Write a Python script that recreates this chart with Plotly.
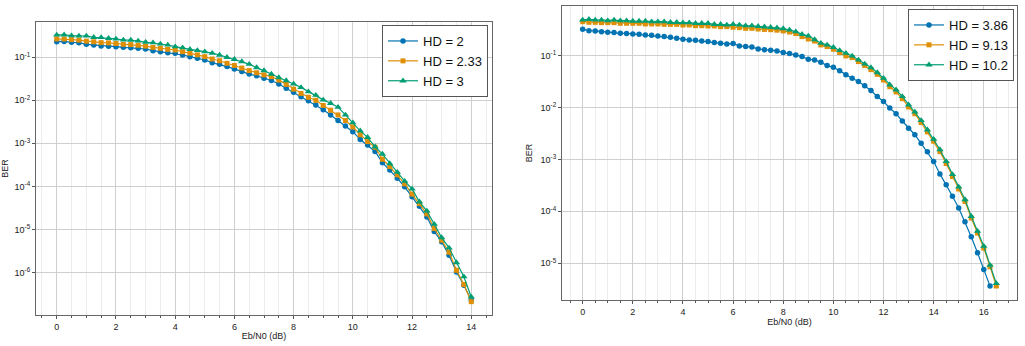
import plotly.graph_objects as go

# ---------------- data (BER given as log10 exponents) ----------------
ebn0_left = [0, 0.25, 0.5, 0.75, 1, 1.25, 1.5, 1.75, 2, 2.25,
             2.5, 2.75, 3, 3.25, 3.5, 3.75, 4, 4.25, 4.5, 4.75,
             5, 5.25, 5.5, 5.75, 6, 6.25, 6.5, 6.75, 7, 7.25,
             7.5, 7.75, 8, 8.25, 8.5, 8.75, 9, 9.25, 9.5, 9.75,
             10, 10.25, 10.5, 10.75, 11, 11.25, 11.5, 11.75, 12, 12.25,
             12.5, 12.75, 13, 13.25, 13.5, 13.75, 14]

left_hd_2_log = [-0.637, -0.632, -0.653, -0.660, -0.699, -0.715, -0.738, -0.745, -0.753, -0.768,
                 -0.777, -0.792, -0.808, -0.846, -0.870, -0.893, -0.908, -0.947, -0.985, -1.024,
                 -1.063, -1.125, -1.163, -1.217, -1.271, -1.330, -1.390, -1.430, -1.490, -1.540,
                 -1.620, -1.720, -1.810, -1.920, -2.010, -2.110, -2.220, -2.340, -2.470, -2.600,
                 -2.730, -2.910, -3.040, -3.190, -3.450, -3.620, -3.810, -4.010, -4.240, -4.460,
                 -4.710, -5.050, -5.290, -5.600, -5.990, -6.300, -6.640]

left_hd_233_log = [-0.574, -0.575, -0.590, -0.600, -0.625, -0.640, -0.660, -0.665, -0.680, -0.700,
                   -0.705, -0.720, -0.740, -0.770, -0.790, -0.815, -0.830, -0.870, -0.905, -0.945,
                   -0.985, -1.040, -1.080, -1.140, -1.190, -1.250, -1.310, -1.360, -1.410, -1.450,
                   -1.530, -1.630, -1.740, -1.840, -1.930, -2.000, -2.120, -2.230, -2.340, -2.470,
                   -2.620, -2.800, -2.960, -3.090, -3.370, -3.540, -3.730, -3.940, -4.180, -4.400,
                   -4.640, -4.980, -5.250, -5.530, -5.950, -6.280, -6.680]

left_hd_3_log = [-0.481, -0.478, -0.497, -0.505, -0.505, -0.536, -0.540, -0.559, -0.574, -0.598,
                 -0.600, -0.621, -0.650, -0.660, -0.691, -0.714, -0.753, -0.776, -0.815, -0.840,
                 -0.869, -0.905, -0.947, -1.000, -1.047, -1.100, -1.160, -1.240, -1.310, -1.390,
                 -1.470, -1.540, -1.620, -1.700, -1.800, -1.880, -1.990, -2.070, -2.160, -2.340,
                 -2.520, -2.710, -2.860, -3.080, -3.250, -3.470, -3.670, -3.880, -4.060, -4.360,
                 -4.570, -4.880, -5.190, -5.430, -5.770, -6.100, -6.570]

ebn0_right = [0, 0.25, 0.5, 0.75, 1, 1.25, 1.5, 1.75, 2, 2.25,
              2.5, 2.75, 3, 3.25, 3.5, 3.75, 4, 4.25, 4.5, 4.75,
              5, 5.25, 5.5, 5.75, 6, 6.25, 6.5, 6.75, 7, 7.25,
              7.5, 7.75, 8, 8.25, 8.5, 8.75, 9, 9.25, 9.5, 9.75,
              10, 10.25, 10.5, 10.75, 11, 11.25, 11.5, 11.75, 12, 12.25,
              12.5, 12.75, 13, 13.25, 13.5, 13.75, 14, 14.25, 14.5, 14.75,
              15, 15.25, 15.5, 15.75, 16, 16.25, 16.5]

right_hd_386_log = [-0.493, -0.519, -0.525, -0.538, -0.551, -0.557, -0.570, -0.572, -0.583, -0.589,
                    -0.602, -0.608, -0.621, -0.634, -0.647, -0.666, -0.685, -0.698, -0.704, -0.717,
                    -0.730, -0.749, -0.762, -0.775, -0.769, -0.813, -0.826, -0.836, -0.871, -0.885,
                    -0.897, -0.910, -0.942, -0.961, -0.987, -1.019, -1.070, -1.083, -1.128, -1.192,
                    -1.224, -1.294, -1.371, -1.435, -1.500, -1.583, -1.672, -1.788, -1.884, -2.012,
                    -2.120, -2.260, -2.400, -2.525, -2.690, -2.855, -3.040, -3.280, -3.487, -3.711,
                    -3.935, -4.204, -4.492, -4.800, -5.121, -5.442]

right_hd_913_log = [-0.346, -0.358, -0.358, -0.365, -0.365, -0.365, -0.377, -0.377, -0.377, -0.377,
                    -0.390, -0.390, -0.390, -0.397, -0.397, -0.397, -0.410, -0.410, -0.423, -0.423,
                    -0.429, -0.429, -0.442, -0.442, -0.454, -0.461, -0.474, -0.474, -0.487, -0.495,
                    -0.500, -0.510, -0.525, -0.545, -0.575, -0.634, -0.680, -0.720, -0.794, -0.826,
                    -0.877, -0.940, -1.006, -1.038, -1.115, -1.190, -1.270, -1.360, -1.470, -1.600,
                    -1.700, -1.830, -1.990, -2.120, -2.290, -2.470, -2.650, -2.850, -3.080, -3.330,
                    -3.570, -3.810, -4.130, -4.420, -4.710, -5.070, -5.440]

right_hd_102_log = [-0.313, -0.301, -0.313, -0.313, -0.326, -0.313, -0.326, -0.326, -0.333, -0.333,
                    -0.333, -0.346, -0.346, -0.346, -0.358, -0.358, -0.365, -0.365, -0.377, -0.377,
                    -0.377, -0.397, -0.397, -0.410, -0.397, -0.410, -0.423, -0.423, -0.435, -0.445,
                    -0.455, -0.465, -0.480, -0.506, -0.538, -0.590, -0.620, -0.690, -0.760, -0.794,
                    -0.839, -0.900, -0.954, -1.006, -1.083, -1.160, -1.230, -1.326, -1.435, -1.563,
                    -1.660, -1.788, -1.948, -2.085, -2.250, -2.430, -2.610, -2.810, -3.040, -3.290,
                    -3.531, -3.775, -4.096, -4.384, -4.672, -5.038, -5.390]

left_names = ["HD = 2", "HD = 2.33", "HD = 3"]
right_names = ["HD = 3.86", "HD = 9.13", "HD = 10.2"]
left_tick_exps = [-1, -2, -3, -4, -5, -6]
right_tick_exps = [-1, -2, -3, -4, -5]

# ---------------- styling ----------------
W, H = 1025, 346
FONT = "Liberation Sans, Arial, Helvetica, sans-serif"
colors = ["#0173b2", "#de8f05", "#029e73"]
symbols = ["circle", "square", "triangle-up"]
msizes = [5.5, 5, 6.5]


def to_ber(exps):
    return [10 ** e for e in exps]


fig = go.Figure()

left_series = [left_hd_2_log, left_hd_233_log, left_hd_3_log]
for i, s in enumerate(left_series):
    fig.add_trace(go.Scatter(
        x=ebn0_left[:len(s)], y=to_ber(s), name=left_names[i], mode="lines+markers",
        line=dict(color=colors[i], width=1.2),
        marker=dict(symbol=symbols[i], size=msizes[i], color=colors[i]),
        xaxis="x", yaxis="y", legend="legend"))

right_series = [right_hd_386_log, right_hd_913_log, right_hd_102_log]
for i, s in enumerate(right_series):
    fig.add_trace(go.Scatter(
        x=ebn0_right[:len(s)], y=to_ber(s), name=right_names[i], mode="lines+markers",
        line=dict(color=colors[i], width=1.2),
        marker=dict(symbol=symbols[i], size=msizes[i], color=colors[i]),
        xaxis="x2", yaxis="y2", legend="legend2"))


def xaxis_style(dom, rng, anchor):
    return dict(
        domain=dom, range=rng, anchor=anchor, tick0=0, dtick=2,
        showgrid=True, gridcolor="#cfcfcf", gridwidth=1, zeroline=False,
        showline=True, mirror=True, linecolor="#666666", linewidth=1,
        ticks="outside", ticklen=3, tickcolor="#555555", tickwidth=1,
        tickfont=dict(size=9, color="#222222", family=FONT),
        minor=dict(dtick=0.5, tick0=0, ticks="outside", ticklen=2, tickcolor="#555555",
                   showgrid=True, gridcolor="#ececec", gridwidth=1),
        title=dict(text="Eb/N0 (dB)", font=dict(size=9, color="#222222", family=FONT), standoff=1),
    )


def yaxis_style(dom, rng, anchor, exps):
    return dict(
        type="log", domain=dom, range=rng, anchor=anchor,
        tickvals=[10 ** e for e in exps],
        ticktext=["10<sup>%d</sup>" % e for e in exps],
        showgrid=True, gridcolor="#cfcfcf", gridwidth=1, zeroline=False,
        showline=True, mirror=True, linecolor="#666666", linewidth=1,
        ticks="outside", ticklen=3, tickcolor="#555555", tickwidth=1,
        tickfont=dict(size=9, color="#222222", family=FONT),
        title=dict(text="BER", font=dict(size=9, color="#222222", family=FONT), standoff=6),
    )


legend_common = dict(xanchor="right", yanchor="top",
                     bgcolor="white", bordercolor="#555555", borderwidth=1,
                     font=dict(size=13, color="#111111", family=FONT),
                     tracegroupgap=0, itemwidth=30)

fig.update_layout(
    width=W, height=H,
    margin=dict(l=0, r=0, t=0, b=0),
    paper_bgcolor="white", plot_bgcolor="white",
    font=dict(family=FONT, color="#222222"),
    showlegend=True,
    xaxis=xaxis_style([36 / W, 492 / W], [-0.7, 14.7], "y"),
    yaxis=yaxis_style([1 - 315 / H, 1 - 22 / H], [-6.99, -0.18], "x", left_tick_exps),
    xaxis2=xaxis_style([562 / W, 1017 / W], [-0.825, 17.325], "y2"),
    yaxis2=yaxis_style([1 - 300 / H, 1 - 6 / H], [-5.71, -0.044], "x2", right_tick_exps),
    legend=dict(x=488 / W, y=1 - 25 / H, **legend_common),
    legend2=dict(x=1014 / W, y=1 - 9 / H, **legend_common),
)

fig.write_html("out.html")
